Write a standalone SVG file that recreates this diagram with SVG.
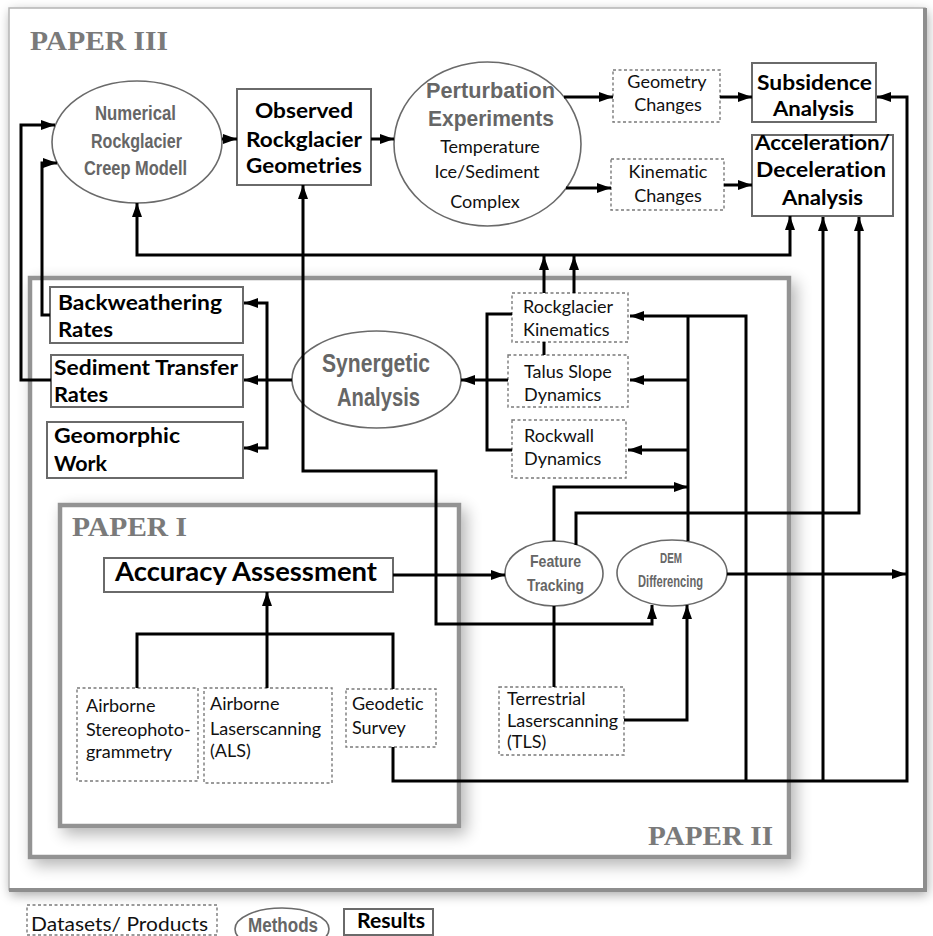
<svg xmlns="http://www.w3.org/2000/svg" width="933" height="936" viewBox="0 0 933 936">
<defs>
<style>
.c{fill:none;stroke:#000;stroke-width:3}
.a{marker-end:url(#ah)}
.s{marker-start:url(#ah)}
.res{fill:#fff;stroke:#6a6a6a;stroke-width:2}
.dash{fill:#fff;stroke:#7a7a7a;stroke-width:1.4;stroke-dasharray:3 2.5}
.ell{fill:#fff;stroke:#6a6a6a;stroke-width:1.6}
text{font-family:Lato,"Open Sans","Liberation Sans",sans-serif;font-variant-ligatures:none}
.rt{font-weight:700;font-size:21px;fill:#000}
.dt{font-size:18px;fill:#111}
.mt{font-family:"Liberation Sans","Open Sans",sans-serif;font-weight:700;fill:#666}
.pt{font-family:"Liberation Serif","DejaVu Serif",serif;font-weight:700;font-size:28px;fill:#7a7a7a}
.frame{fill:#fff;stroke:#939393;stroke-width:4.5}
</style>
<marker id="ah" viewBox="0 0 14 10" refX="14" refY="5" markerWidth="14" markerHeight="10" markerUnits="userSpaceOnUse" orient="auto-start-reverse"><path d="M0,0L14,5L0,10z" fill="#000"/></marker>
<filter id="sh" x="-10%" y="-10%" width="125%" height="125%">
<feGaussianBlur in="SourceAlpha" stdDeviation="8" result="b"/>
<feOffset in="b" dx="5" dy="6" result="o"/>
<feComponentTransfer in="o" result="o2"><feFuncA type="linear" slope="0.3"/></feComponentTransfer>
<feMerge><feMergeNode in="o2"/><feMergeNode in="SourceGraphic"/></feMerge>
</filter>
<filter id="sh2" x="-5%" y="-5%" width="110%" height="110%">
<feGaussianBlur in="SourceAlpha" stdDeviation="6" result="b"/>
<feOffset in="b" dx="2" dy="4" result="o"/>
<feComponentTransfer in="o" result="o2"><feFuncA type="linear" slope="0.35"/></feComponentTransfer>
<feMerge><feMergeNode in="o2"/><feMergeNode in="SourceGraphic"/></feMerge>
</filter>
</defs>
<rect width="933" height="936" fill="#fff"/>

<g id="paper3">
<rect x="9" y="8" width="916" height="882" fill="#fff" stroke="#b4b4b4" stroke-width="1.5" filter="url(#sh2)"/>
<path d="M925,8V890H9" fill="none" stroke="#8e8e8e" stroke-width="4"/>
<text class="pt" x="30" y="50" textLength="138" lengthAdjust="spacingAndGlyphs">PAPER III</text>
</g>
<g id="paper2">
<rect class="frame" x="30" y="278" width="759" height="579" filter="url(#sh)"/>
<text class="pt" x="648" y="845" textLength="125" lengthAdjust="spacingAndGlyphs">PAPER II</text>
</g>
<g id="paper1">
<rect class="frame" x="60" y="505" width="399" height="321" filter="url(#sh)"/>
<text class="pt" x="72" y="536" textLength="115" lengthAdjust="spacingAndGlyphs">PAPER I</text>
</g>

<g id="numerical">
<ellipse class="ell" cx="137" cy="142" rx="85" ry="61"/>
<text class="mt" font-size="20" x="95" y="120" textLength="81" lengthAdjust="spacingAndGlyphs">Numerical</text>
<text class="mt" font-size="20" x="91" y="148" textLength="91" lengthAdjust="spacingAndGlyphs">Rockglacier</text>
<text class="mt" font-size="20" x="84" y="175" textLength="103" lengthAdjust="spacingAndGlyphs">Creep Modell</text>
</g>
<g id="observed">
<rect class="res" x="237" y="89" width="134" height="96"/>
<text class="rt" x="255" y="118" textLength="98" lengthAdjust="spacingAndGlyphs">Observed</text>
<text class="rt" x="246" y="147" textLength="116" lengthAdjust="spacingAndGlyphs">Rockglacier</text>
<text class="rt" x="246" y="173" textLength="116" lengthAdjust="spacingAndGlyphs">Geometries</text>
</g>
<g id="perturbation">
<ellipse class="ell" cx="487.5" cy="144" rx="93.5" ry="82"/>
<text class="mt" font-size="22" x="426" y="98" textLength="129" lengthAdjust="spacingAndGlyphs">Perturbation</text>
<text class="mt" font-size="22" x="428" y="126" textLength="126" lengthAdjust="spacingAndGlyphs">Experiments</text>
<text class="dt" x="490" y="153" text-anchor="middle">Temperature</text>
<text class="dt" x="487" y="178" text-anchor="middle">Ice/Sediment</text>
<text class="dt" x="485" y="208" text-anchor="middle">Complex</text>
</g>
<g id="geometry-changes">
<rect class="dash" x="613" y="70" width="107" height="52"/>
<text class="dt" x="667" y="88" text-anchor="middle">Geometry</text>
<text class="dt" x="668" y="111" text-anchor="middle">Changes</text>
</g>
<g id="kinematic-changes">
<rect class="dash" x="611" y="159" width="113" height="51"/>
<text class="dt" x="668" y="178" text-anchor="middle">Kinematic</text>
<text class="dt" x="668" y="202" text-anchor="middle">Changes</text>
</g>
<g id="subsidence">
<rect class="res" x="752" y="63" width="124" height="59"/>
<text class="rt" x="757" y="90" textLength="115" lengthAdjust="spacingAndGlyphs">Subsidence</text>
<text class="rt" x="773" y="116" textLength="81" lengthAdjust="spacingAndGlyphs">Analysis</text>
</g>
<g id="acceleration">
<rect class="res" x="752" y="135" width="141" height="81"/>
<text class="rt" x="755" y="150" textLength="135" lengthAdjust="spacingAndGlyphs">Acceleration/</text>
<text class="rt" x="756" y="177" textLength="130" lengthAdjust="spacingAndGlyphs">Deceleration</text>
<text class="rt" x="782" y="205" textLength="81" lengthAdjust="spacingAndGlyphs">Analysis</text>
</g>
<g id="backweathering">
<rect class="res" x="50" y="287" width="193" height="56"/>
<text class="rt" x="58" y="310" textLength="164" lengthAdjust="spacingAndGlyphs">Backweathering</text>
<text class="rt" x="58" y="337" textLength="55" lengthAdjust="spacingAndGlyphs">Rates</text>
</g>
<g id="sediment-transfer">
<rect class="res" x="51" y="355" width="192" height="52"/>
<text class="rt" x="54" y="375" textLength="184" lengthAdjust="spacingAndGlyphs">Sediment Transfer</text>
<text class="rt" x="54" y="402" textLength="54" lengthAdjust="spacingAndGlyphs">Rates</text>
</g>
<g id="geomorphic-work">
<rect class="res" x="47" y="422" width="196" height="56"/>
<text class="rt" x="54" y="443" textLength="126" lengthAdjust="spacingAndGlyphs">Geomorphic</text>
<text class="rt" x="54" y="471" textLength="53" lengthAdjust="spacingAndGlyphs">Work</text>
</g>
<g id="synergetic">
<ellipse class="ell" cx="376.5" cy="379.5" rx="84.5" ry="48.5"/>
<text class="mt" font-size="25" x="322" y="372" textLength="108" lengthAdjust="spacingAndGlyphs">Synergetic</text>
<text class="mt" font-size="25" x="337" y="406" textLength="83" lengthAdjust="spacingAndGlyphs">Analysis</text>
</g>
<g id="rockglacier-kinematics">
<rect class="dash" x="512" y="293" width="116" height="49"/>
<text class="dt" x="523" y="313">Rockglacier</text>
<text class="dt" x="523" y="336">Kinematics</text>
</g>
<g id="talus">
<rect class="dash" x="508" y="355" width="120" height="52"/>
<text class="dt" x="524" y="378">Talus Slope</text>
<text class="dt" x="524" y="401">Dynamics</text>
</g>
<g id="rockwall">
<rect class="dash" x="512" y="420" width="114" height="58"/>
<text class="dt" x="524" y="442">Rockwall</text>
<text class="dt" x="524" y="465">Dynamics</text>
</g>
<g id="feature-tracking">
<ellipse class="ell" cx="554" cy="573.5" rx="49" ry="32.5"/>
<text class="mt" font-size="17" x="530" y="567" textLength="51" lengthAdjust="spacingAndGlyphs">Feature</text>
<text class="mt" font-size="17" x="527" y="591" textLength="57" lengthAdjust="spacingAndGlyphs">Tracking</text>
</g>
<g id="dem-differencing">
<ellipse class="ell" cx="672" cy="573" rx="55" ry="33"/>
<text class="mt" font-size="15" x="660" y="563" textLength="22" lengthAdjust="spacingAndGlyphs">DEM</text>
<text class="mt" font-size="16" x="638" y="587" textLength="65" lengthAdjust="spacingAndGlyphs">Differencing</text>
</g>
<g id="tls">
<rect class="dash" x="499" y="687" width="125" height="68"/>
<text class="dt" x="507" y="705">Terrestrial</text>
<text class="dt" x="507" y="727">Laserscanning</text>
<text class="dt" x="507" y="748">(TLS)</text>
</g>
<g id="accuracy">
<rect class="res" x="104" y="558" width="289" height="34"/>
<text font-weight="700" font-size="26" fill="#000" x="115" y="581" textLength="262" lengthAdjust="spacingAndGlyphs">Accuracy Assessment</text>
</g>
<g id="airborne-stereo">
<rect class="dash" x="77" y="688" width="121" height="93"/>
<text class="dt" x="86" y="712">Airborne</text>
<text class="dt" x="86" y="736">Stereophoto-</text>
<text class="dt" x="86" y="758">grammetry</text>
</g>
<g id="als">
<rect class="dash" x="204" y="688" width="128" height="95"/>
<text class="dt" x="210" y="710">Airborne</text>
<text class="dt" x="210" y="735">Laserscanning</text>
<text class="dt" x="210" y="757">(ALS)</text>
</g>
<g id="geodetic">
<rect class="dash" x="346" y="689" width="90" height="58"/>
<text class="dt" x="352" y="710">Geodetic</text>
<text class="dt" x="352" y="734">Survey</text>
</g>

<g id="connectors">
<path class="c a" d="M51,380H21V125H55"/>
<path class="c a" d="M50,315H42V163H57"/>
<path class="c a" d="M222,139H237"/>
<path class="c a" d="M371,139H394"/>
<path class="c a" d="M564,97H613"/>
<path class="c a" d="M720,97H752"/>
<path class="c a" d="M566,188H611"/>
<path class="c a" d="M724,185H752"/>
<path class="c a s" d="M137,203V255H790V216"/>
<path class="c a" d="M574,293V256"/>
<path class="c a" d="M544,293V256"/>
<path class="c" d="M544,342V355"/>
<path class="c" d="M512,314H487V450H512"/>
<path class="c a" d="M508,380H461"/>
<path class="c a" d="M292,380H244"/>
<path class="c a" d="M267,380V303H244"/>
<path class="c a" d="M267,380V448H244"/>
<path class="c a" d="M746,781V316H630"/>
<path class="c" d="M688,541V316"/>
<path class="c a" d="M688,380H630"/>
<path class="c a" d="M688,450H628"/>
<path class="c a" d="M554,541V487H688"/>
<path class="c a" d="M576,545V513H859V217"/>
<path class="c a" d="M727,574H906"/>
<path class="c a" d="M393,575H505"/>
<path class="c a s" d="M303,185V471H436V624H652V605"/>
<path class="c" d="M554,606V687"/>
<path class="c a" d="M624,720H687V605"/>
<path class="c" d="M137,688V634H393V689"/>
<path class="c a" d="M267,688V592"/>
<path class="c a" d="M393,747V781H907V97H877"/>
<path class="c a" d="M823,781V217"/>
</g>

<g id="legend">
<rect class="dash" x="27" y="905" width="190" height="30"/>
<text x="31" y="931" font-size="19" fill="#111" textLength="177" lengthAdjust="spacingAndGlyphs">Datasets/ Products</text>
<ellipse class="ell" cx="282" cy="929" rx="47" ry="21"/>
<text class="mt" font-size="20" x="248" y="932" textLength="70" lengthAdjust="spacingAndGlyphs">Methods</text>
<rect class="res" x="344" y="909" width="89" height="26"/>
<text class="rt" font-size="20" x="357" y="928" textLength="68" lengthAdjust="spacingAndGlyphs">Results</text>
</g>
</svg>
